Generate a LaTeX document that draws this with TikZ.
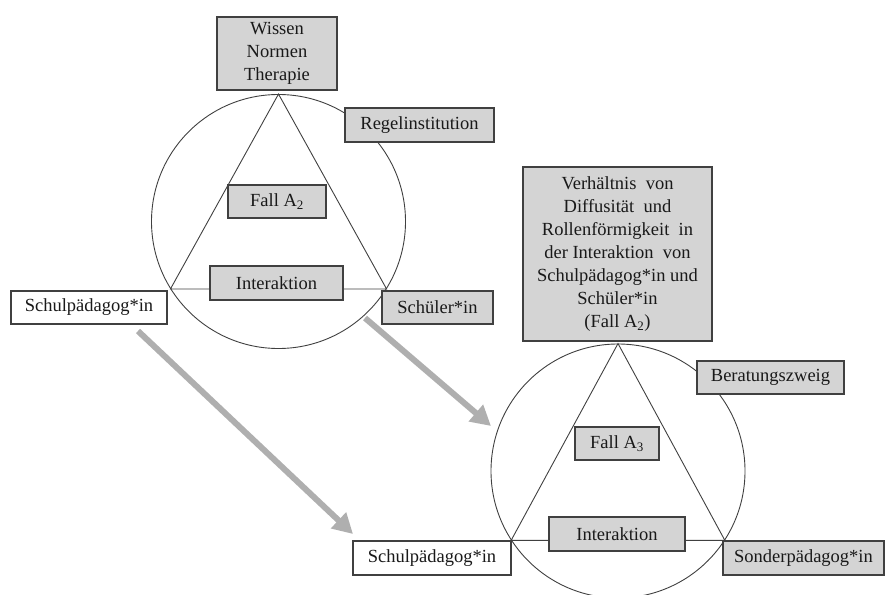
\documentclass[tikz,border=0pt]{standalone}
\usepackage{fontspec}
\setmainfont{Liberation Serif}
\usetikzlibrary{arrows.meta}

\definecolor{boxfill}{HTML}{D4D4D4}
\definecolor{boxline}{HTML}{404040}
\definecolor{arrowgray}{HTML}{AFAFAF}

\begin{document}
\begin{tikzpicture}[x=1pt,y=-1pt,
  every node/.style={font=\fontsize{18.5}{23}\selectfont, inner sep=0pt, text=black!90},
  labelbox/.style={draw=boxline, line width=1.1pt, fill=boxfill, minimum height=33pt, align=center},
  whitebox/.style={labelbox, fill=white},
  ring/.style={circle, draw=boxline, line width=0.9pt, minimum size=254pt},
  side/.style={draw=boxline, line width=0.9pt},
  shiftarrow/.style={draw=arrowgray, line width=6pt, -{Triangle[length=20pt,width=21pt]}}]

\useasboundingbox (0,0) rectangle (885,594);

% ---- first triangle (Fall A2) ----
\node[ring] (ringA) at (278.5,221.5) {};
\coordinate (topA)   at (ringA.90);
\coordinate (leftA)  at (ringA.212.6);
\coordinate (rightA) at (ringA.-32.6);
\draw[side] (leftA) -- (topA) -- (rightA) -- cycle;

\node[labelbox, minimum width=120pt, minimum height=73pt] (wissen) at (277,53.5)
  {Wissen\\Normen\\Therapie};
\node[labelbox, minimum width=149pt, minimum height=34pt] (regel) at (419.5,125) {Regelinstitution};
\node[labelbox, minimum width=98pt] (fallA) at (277,201.5) {Fall A\textsubscript{2}};
\node[labelbox, minimum width=133pt, minimum height=34pt] (interA) at (276.5,283) {Interaktion};
\node[whitebox, minimum width=156pt] (schulA) at (89,307.5) {Schulpädagog*in};
\node[labelbox, minimum width=111pt] (schueler) at (437.5,307.5) {Schüler*in};

% ---- second triangle (Fall A3) ----
\node[ring] (ringB) at (618,471) {};
\coordinate (topB)   at (ringB.90);
\coordinate (leftB)  at (ringB.213);
\coordinate (rightB) at (ringB.-33);
\draw[side] (leftB) -- (topB) -- (rightB) -- cycle;

\node[labelbox, minimum width=189pt, minimum height=174pt] (verh) at (617.5,254)
  {Verhältnis\enspace von\\Diffusität\enspace und\\Rollenförmigkeit\enspace in\\
   der Interaktion\enspace von\\Schulpädagog*in und\\Schüler*in\\(Fall A\textsubscript{2})};
\node[labelbox, minimum width=147pt] (berat) at (770.5,377.5) {Beratungszweig};
\node[labelbox, minimum width=84pt] (fallB) at (617,443.5) {Fall A\textsubscript{3}};
\node[labelbox, minimum width=136pt, minimum height=34pt] (interB) at (617,534) {Interaktion};
\node[whitebox, minimum width=158pt, minimum height=34pt] (schulB) at (432,558) {Schulpädagog*in};
\node[labelbox, minimum width=161pt, minimum height=34pt] (sonder) at (803.5,558) {Sonderpädagog*in};

% ---- transition arrows ----
\coordinate (fromSchul)    at (138,331);
\coordinate (toSchul)      at (353,534);
\coordinate (fromSchueler) at (365,318);
\coordinate (toRing)       at (491,426);
\draw[shiftarrow] (fromSchul) -- (toSchul);
\draw[shiftarrow] (fromSchueler) -- (toRing);

\end{tikzpicture}
\end{document}
